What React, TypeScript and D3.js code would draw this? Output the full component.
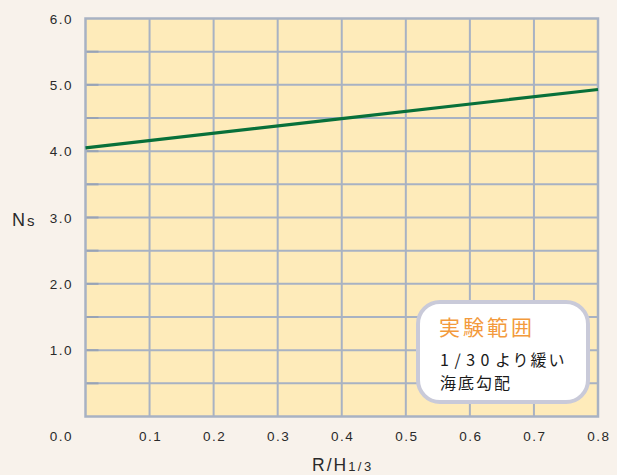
import React from 'react';
import * as d3 from 'd3';

// Ns vs R/H1/3 design curve
const xTicks = [0.1, 0.2, 0.3, 0.4, 0.5, 0.6, 0.7, 0.8];
const yTicks = [1, 2, 3, 4, 5, 6];
const gridY = [0.5, 1, 1.5, 2, 2.5, 3, 3.5, 4, 4.5, 5, 5.5];
const curveX = [0, 0.4, 0.8];
const curveNs = [4.05, 4.49, 4.93];
const legendTitle = '実験範囲';
const legendNum = '1/30';
const legendLines = ['より緩い', '海底勾配'];

const W = 617;
const H = 475;
const margin = { left: 85.5, right: 19, top: 18.5, bottom: 58.5 };

export default function App() {
  const x = d3.scaleLinear().domain([0, 0.8]).range([margin.left, W - margin.right]);
  const y = d3.scaleLinear().domain([0, 6]).range([H - margin.bottom, margin.top]);

  const pts: [number, number][] = curveX.map((v, i) => [v, curveNs[i]]);
  const line = d3.line<[number, number]>().x(d => x(d[0])).y(d => y(d[1]));

  const gridColor = '#a8b2c3';
  const font = '"Liberation Sans", Arial, sans-serif';
  const jp = '"Noto Sans CJK JP", sans-serif';

  return (
    <svg width={W} height={H} style={{ position: 'absolute', left: 0, top: 0, display: 'block' }}>
      <rect width={W} height={H} fill="#f8f2eb" />
      <rect x={x(0)} y={y(6)} width={x(0.8) - x(0)} height={y(0) - y(6)} fill="#feebba" />

      {/* grid */}
      {gridY.map(v => (
        <g key={'gy' + v}>
          <line x1={x(0)} x2={x(0.8)} y1={y(v)} y2={y(v)} stroke={gridColor} strokeWidth={2} />
          <line x1={x(0)} x2={x(0) + 13} y1={y(v)} y2={y(v)} stroke="#98a3b6" strokeWidth={2} />
        </g>
      ))}
      {xTicks.slice(0, -1).map(v => (
        <line key={'gx' + v} x1={x(v)} x2={x(v)} y1={y(6)} y2={y(0)} stroke={gridColor} strokeWidth={2} />
      ))}
      <rect x={x(0)} y={y(6)} width={x(0.8) - x(0)} height={y(0) - y(6)} fill="none" stroke={gridColor} strokeWidth={2.5} />

      {/* curve */}
      <path d={line(pts) || ''} fill="none" stroke="#08703a" strokeWidth={3.2} />

      {/* y tick labels */}
      {yTicks.map(v => (
        <text key={'yt' + v} x={73} y={y(v) + 5} textAnchor="end" fontFamily={font} fontSize={13.5} letterSpacing={1.5} fill="#2a2a2a">
          {v.toFixed(1)}
        </text>
      ))}
      <text x={73} y={441} textAnchor="end" fontFamily={font} fontSize={13.5} letterSpacing={1.5} fill="#2a2a2a">0.0</text>
      {xTicks.map(v => (
        <text key={'xt' + v} x={x(v) + 1} y={441} textAnchor="middle" fontFamily={font} fontSize={13.5} letterSpacing={1.5} fill="#2a2a2a">
          {v.toFixed(1)}
        </text>
      ))}

      {/* axis titles */}
      <text x={12} y={226} fontFamily={font} fontSize={18} fill="#2a2a2a">
        N<tspan fontSize={15} dx={2}>s</tspan>
      </text>
      <text x={312} y={471} fontFamily={font} fontSize={17.5} fill="#2a2a2a" letterSpacing={2}>
        R/H<tspan fontSize={13} letterSpacing={2.5}>1/3</tspan>
      </text>

      {/* legend box */}
      <rect x={418} y={302} width={170} height={100} rx={22} ry={22} fill="#ffffff" stroke="#c9cad9" strokeWidth={4} />
      <text x={439} y={335} fontFamily={jp} fontSize={21} fill="#f39a3c" letterSpacing={3}>{legendTitle}</text>
      <text x={440} y={366} fontFamily={jp} fontSize={16} fill="#1a1a1a" letterSpacing={2}>
        <tspan letterSpacing={5.5}>{legendNum}</tspan>{legendLines[0]}
      </text>
      <text x={440} y={389} fontFamily={jp} fontSize={16} fill="#1a1a1a" letterSpacing={2}>{legendLines[1]}</text>
    </svg>
  );
}
